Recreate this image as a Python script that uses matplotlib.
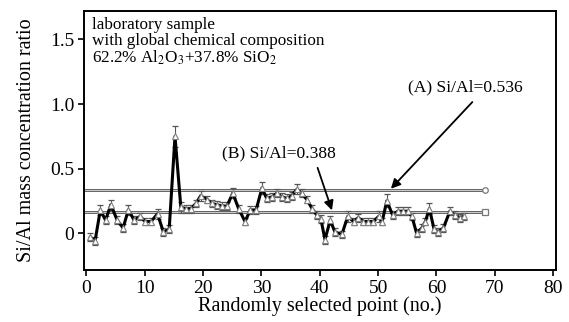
import matplotlib
matplotlib.use("Agg")
import matplotlib.pyplot as plt
import numpy as np

# point positions (no.) and Si/Al ratio
pt_no = [0.7, 1.5, 2.4, 3.3, 4.2, 5.3, 6.3, 7.2, 8.2, 9.2, 10.1, 11.1, 12.2, 13.2,
         14.2, 15.2, 16.2, 17.1, 17.9, 18.8, 19.6, 20.7, 21.5, 22.4, 23.2, 24.1,
         25.1, 26.1, 27.2, 28.1, 29.1, 30.1, 30.9, 31.8, 32.7, 33.5, 34.4, 35.2,
         36.1, 36.9, 37.8, 38.7, 39.5, 40.2, 40.9, 41.8, 42.6, 43.8, 44.8, 45.8,
         46.6, 47.5, 48.3, 49.2, 50.1, 50.7, 51.5, 52.5, 53.4, 54.2, 55.1, 55.8,
         56.6, 57.5, 58.1, 58.8, 59.6, 60.3, 61.2, 62.3, 63.2, 64.0, 64.7]
ratio = [-0.03, -0.06, 0.18, 0.10, 0.22, 0.10, 0.04, 0.18, 0.10, 0.13, 0.09, 0.09,
         0.15, 0.01, 0.03, 0.75, 0.20, 0.19, 0.19, 0.23, 0.29, 0.26, 0.23, 0.22,
         0.21, 0.21, 0.31, 0.19, 0.09, 0.18, 0.18, 0.35, 0.27, 0.28, 0.31, 0.28,
         0.27, 0.29, 0.34, 0.31, 0.26, 0.19, 0.14, 0.11, -0.05, 0.10, 0.01, -0.01,
         0.13, 0.09, 0.12, 0.09, 0.09, 0.09, 0.13, 0.09, 0.25, 0.14, 0.17, 0.17,
         0.17, 0.13, 0.00, 0.04, 0.09, 0.19, 0.03, 0.01, 0.04, 0.17, 0.14, 0.12, 0.13]
err = [0.03, 0.03, 0.04, 0.03, 0.04, 0.03, 0.03, 0.04, 0.03, 0.03, 0.03, 0.03,
       0.04, 0.03, 0.03, 0.08, 0.04, 0.03, 0.03, 0.03, 0.04, 0.03, 0.03, 0.03,
       0.03, 0.03, 0.04, 0.03, 0.03, 0.03, 0.03, 0.05, 0.03, 0.03, 0.03, 0.03,
       0.03, 0.03, 0.04, 0.03, 0.03, 0.03, 0.03, 0.03, 0.03, 0.03, 0.03, 0.03,
       0.04, 0.03, 0.03, 0.03, 0.03, 0.03, 0.04, 0.03, 0.05, 0.03, 0.03, 0.03,
       0.03, 0.03, 0.03, 0.03, 0.03, 0.04, 0.03, 0.03, 0.03, 0.03, 0.03, 0.03, 0.03]

line_a = 0.336   # drawn level of (A)
line_b = 0.165   # drawn level of (B)
line_end = 68.3
xticks = [0, 10, 20, 30, 40, 50, 60, 70, 80]
yticks = [0, 0.5, 1.0, 1.5]
ytick_labels = ["0", "0.5", "1.0", "1.5"]

plt.rcParams["font.family"] = ["Liberation Serif", "DejaVu Serif"]
plt.rcParams["mathtext.fontset"] = "stix"

fig = plt.figure(figsize=(5.69, 3.22), dpi=100)
ax = fig.add_axes([0.1476, 0.1615, 0.8296, 0.8043])

# reference levels: grey double-looking lines
for lvl, mk in [(line_a, "o"), (line_b, "s")]:
    ax.plot([-0.4, line_end], [lvl, lvl], color="#555555", lw=2.0, zorder=1)
    ax.plot([-0.4, line_end], [lvl, lvl], color="#e0e0e0", lw=0.6, zorder=1)
    ax.plot([line_end], [lvl], marker=mk, ms=4, mfc="white", mec="#777777",
            mew=0.9, zorder=2, clip_on=False)

ax.errorbar(pt_no, ratio, yerr=err, fmt="none", ecolor="#555555", elinewidth=0.8,
            capsize=2.4, capthick=0.9, zorder=2)
ax.plot(pt_no, ratio, color="black", lw=2.2, zorder=3)
ax.plot(pt_no, ratio, ls="none", marker="^", ms=5, mfc="white", mec="#808080",
        mew=0.8, zorder=4)

ax.annotate("(A) Si/Al=0.536", xy=(52.2, line_a + 0.008), xytext=(64.9, 1.13),
            ha="center", va="center", fontsize=12.6,
            arrowprops=dict(arrowstyle="-|>", color="black", lw=1.3,
                            mutation_scale=14, shrinkA=4, shrinkB=0,
                            relpos=(0.62, 0.0)))
ax.annotate("(B) Si/Al=0.388", xy=(42.1, line_b + 0.012), xytext=(33.0, 0.62),
            ha="center", va="center", fontsize=12.6,
            arrowprops=dict(arrowstyle="-|>", color="black", lw=1.3,
                            mutation_scale=14, shrinkA=3, shrinkB=0,
                            relpos=(0.82, 0.0)))

ax.text(0.018, 0.978,
        "laboratory sample\nwith global chemical composition\n"
        "62.2% Al$_2$O$_3$+37.8% SiO$_2$",
        transform=ax.transAxes, ha="left", va="top", fontsize=12.3,
        linespacing=1.0)

ax.set_xlim(-0.4, 80.5)
ax.set_ylim(-0.285, 1.72)
ax.set_xticks(xticks)
ax.set_yticks(yticks)
ax.set_yticklabels(ytick_labels)
ax.tick_params(direction="out", length=4, width=1.2, labelsize=14, pad=3)
for s in ax.spines.values():
    s.set_linewidth(1.4)
ax.set_xlabel("Randomly selected point (no.)", fontsize=14.5, labelpad=0)
ax.set_ylabel("Si/Al mass concentration ratio", fontsize=14.5, labelpad=10)

fig.savefig("out.png", dpi=100)
